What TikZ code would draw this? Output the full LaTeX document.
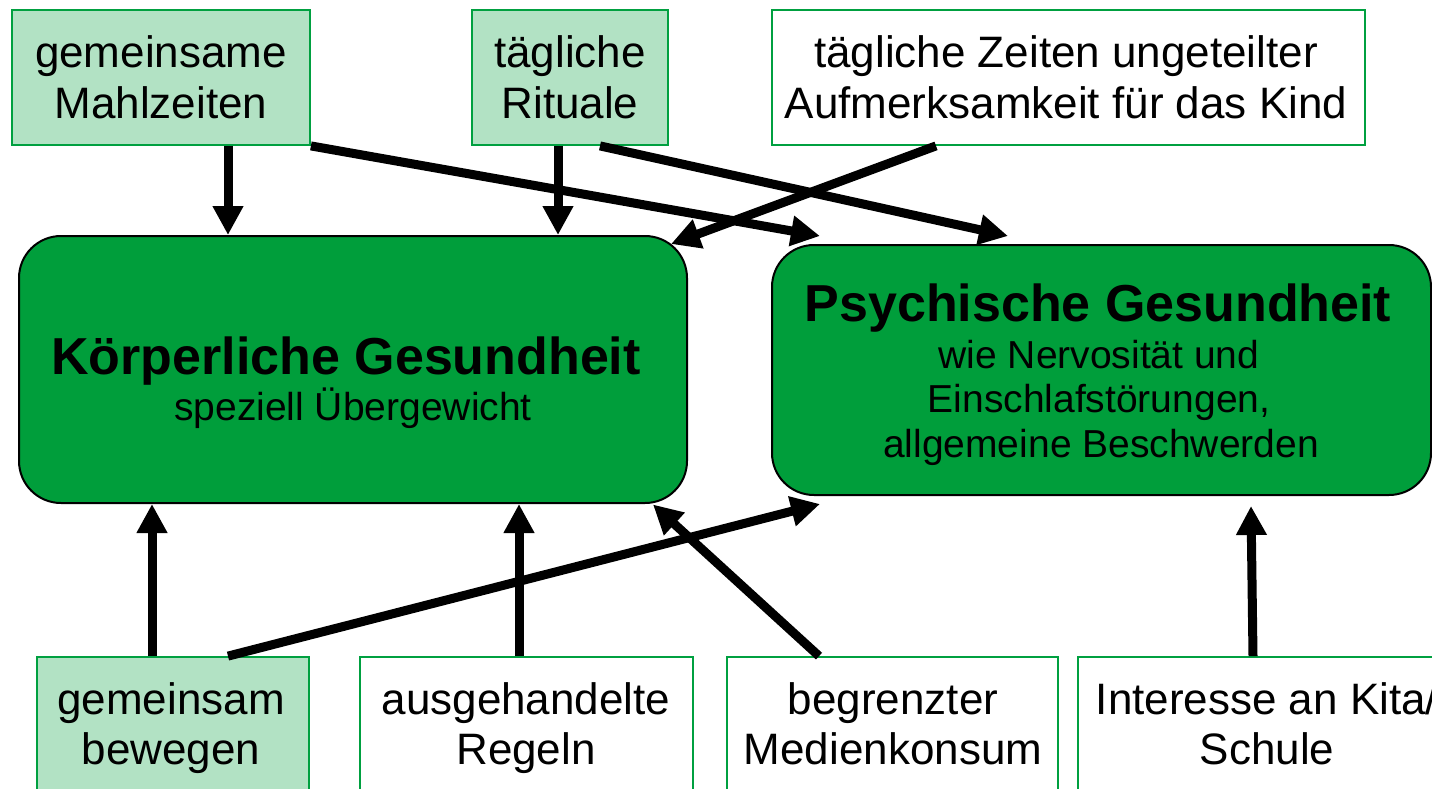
\documentclass[tikz,border=0pt]{standalone}
\usepackage{fontspec}
\setmainfont{Liberation Sans}
\usetikzlibrary{arrows.meta}
\definecolor{lightg}{RGB}{178,226,196}
\definecolor{boxg}{RGB}{0,160,64}
\definecolor{bigg}{RGB}{0,158,59}
\begin{document}
\begin{tikzpicture}[x=1pt,y=-1pt,
  lbox/.style={draw=boxg, fill=lightg, line width=1.8pt, inner sep=0pt},
  wbox/.style={draw=boxg, fill=white, line width=1.8pt, inner sep=0pt},
  bigbox/.style={draw=black, fill=bigg, line width=2pt, rounded corners=42pt, inner sep=0pt},
  txt/.style={align=center, inner sep=0pt, font=\fontsize{44}{50.6}\selectfont},
  ttl/.style={anchor=base, inner sep=0pt, font=\fontsize{52}{60}\selectfont\bfseries},
  subt/.style={anchor=base, inner sep=0pt, font=\fontsize{39}{45}\selectfont},
  arr/.style={line width=9pt, -{Triangle[length=29pt,width=29pt]}}]
\useasboundingbox (0,0) rectangle (1432,788);
\clip (0,0) rectangle (1432,788);
\fill[white] (0,0) rectangle (1432,788);

% top boxes
\node[lbox, minimum width=298pt, minimum height=135pt] (b1) at (161,77.5) {};
\node[lbox, minimum width=196pt, minimum height=135pt] (b2) at (570,77.5) {};
\node[wbox, minimum width=593pt, minimum height=135pt] (b3) at (1068.5,77.5) {};
\node[txt] (b1t) at (161,82.6) {gemeinsame\strut\\Mahlzeiten\strut};
\node[txt] (b2t) at (570,82.6) {tägliche\strut\\Rituale\strut};
\node[txt] (b3t) at (1066,82.6) {tägliche Zeiten ungeteilter\strut\\Aufmerksamkeit für das Kind\strut};

% big boxes
\node[bigbox, minimum width=668pt, minimum height=267pt] (K) at (353,369.5) {};
\node[bigbox, minimum width=659pt, minimum height=250pt] (P) at (1101.5,370) {};
\node[ttl] (Kt) at (346,374) {Körperliche Gesundheit};
\node[subt] (Ks) at (353,420) {speziell Übergewicht};
\node[ttl] (Pt) at (1098,321) {Psychische Gesundheit};
\node[subt] (Ps1) at (1099,368) {wie Nervosität und};
\node[subt] (Ps2) at (1099,412) {Einschlafstörungen,};
\node[subt] (Ps3) at (1101,457) {allgemeine Beschwerden};

% bottom boxes
\node[lbox, minimum width=272pt, minimum height=133pt] (b4) at (173,723.5) {};
\node[wbox, minimum width=333pt, minimum height=133pt] (b5) at (526.5,723.5) {};
\node[wbox, minimum width=331pt, minimum height=133pt] (b6) at (892.5,723.5) {};
\node[wbox, minimum width=380pt, minimum height=133pt] (b7) at (1268,723.5) {};
\node[txt] (b4t) at (171,729.5) {gemeinsam\strut\\bewegen\strut};
\node[txt] (b5t) at (526,729.5) {ausgehandelte\strut\\Regeln\strut};
\node[txt] (b6t) at (893,729.5) {begrenzter\strut\\Medienkonsum\strut};
\node[txt] (b7t) at (1267,729.5) {Interesse an Kita/\strut\\Schule\strut};

% arrows
\draw[arr] ([xshift=67pt]b1.south) -- ([xshift=-125pt]K.north);
\draw[arr] ([xshift=-12pt]b2.south) -- ([xshift=205pt]K.north);
\draw[arr] (b1.south east) -- ([xshift=-281.5pt,yshift=8pt]P.north);
\draw[arr] ([xshift=30pt]b2.south) -- ([xshift=-93.5pt,yshift=8pt]P.north);
\draw[arr] ([xshift=-132.5pt]b3.south) -- ([xshift=-17pt,yshift=-9pt]K.north east);
\draw[arr] ([xshift=-21pt]b4.north) -- ([xshift=-201pt]K.south);
\draw[arr] ([xshift=-7.5pt]b5.north) -- ([xshift=166pt]K.south);
\draw[arr] ([xshift=55pt]b4.north) -- ([xshift=-281.5pt,yshift=-8pt]P.south);
\draw[arr] ([xshift=-73.5pt]b6.north) -- ([xshift=-35pt,yshift=-0.5pt]K.south east);
\draw[arr] ([xshift=-15pt]b7.north) -- ([xshift=149.5pt,yshift=-10pt]P.south);
\end{tikzpicture}
\end{document}
